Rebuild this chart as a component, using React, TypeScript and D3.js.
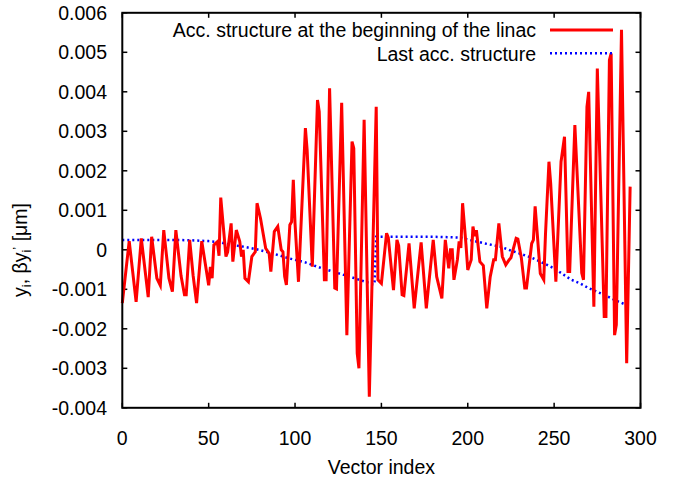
import React from 'react';
import * as d3 from 'd3';

// x-axis ticks (vector index) and y-axis ticks (in units of 0.001 µm)
const xTicks = [0, 50, 100, 150, 200, 250, 300];
const yTicks = [-4, -3, -2, -1, 0, 1, 2, 3, 4, 5, 6];

// Acc. structure at the beginning of the linac (values in units of 0.001)
const redIdx = [0, 4, 8, 11, 15, 17, 20, 22, 24, 27, 29, 31, 34, 36, 37, 39, 41, 43, 46, 48, 50, 51, 52, 53, 55, 56, 57, 60, 61, 63, 64, 66, 68, 69, 70, 71, 73, 75, 77, 78, 80, 83, 85, 86, 88, 90, 92, 93, 94, 95, 97, 98, 99, 100, 102, 106, 107, 110, 113, 114, 117, 118, 120, 123, 124, 127, 130, 133, 134, 136, 137, 140, 143, 147, 148, 150, 153, 154, 157, 159, 160, 162, 163, 166, 169, 173, 176, 180, 182, 185, 187, 189, 190, 191, 192, 194, 195, 196, 197, 199, 200, 202, 203, 204, 205, 207, 209, 211, 213, 215, 216, 218, 220, 222, 224, 225, 228, 229, 231, 233, 234, 237, 238, 239, 242, 244, 245, 247, 248, 251, 254, 256, 258, 259, 262, 266, 267, 269, 270, 273, 275, 279, 280, 282, 283, 285, 286, 289, 292, 294];
const redVal = [-1.35, 0.22, -1.32, 0.29, -1.2, 0.33, -0.72, -0.9, 0.5, -0.72, -1.06, 0.5, -0.66, -1.14, -1.14, 0.25, -0.65, -1.35, 0.22, -0.34, -0.9, -0.43, -0.72, 0.12, 0.2, -0.15, 1.32, -0.17, -0.05, 0.67, -0.3, 0.5, 0.21, -0.17, 0.0, -0.72, -0.81, -0.17, -0.05, 1.18, 0.8, 0.04, -0.09, -0.55, 0.46, 0.59, 0.0, -0.05, -0.68, -0.89, 0.63, 0.71, 1.77, 0.67, -0.81, 3.08, 2.53, -0.43, 3.79, 3.5, -0.76, -0.76, 4.09, -0.97, -0.99, 3.72, -2.16, 2.74, 2.57, -2.62, -3.0, 3.29, -3.72, 3.62, -0.76, -0.85, 0.42, 0.3, -1.02, 0.25, 0.1, -1.14, -1.16, 0.16, -1.48, 0.19, -1.48, 0.25, -0.68, -1.23, 0.25, -0.47, 0.0, 0.0, -0.76, -0.25, 0.21, 0.05, 1.18, 0.11, -0.51, -0.25, 0.59, 0.35, 0.5, -0.3, -0.4, -1.48, -0.68, -0.25, -0.25, 0.67, -0.17, -0.38, -0.25, -0.2, 0.29, 0.27, -0.2, -0.97, -0.97, 0.16, 0.25, 1.1, -0.6, -0.76, 0.4, 2.23, 1.68, -0.81, 2.23, 2.86, -0.55, -0.55, 3.16, -0.59, -0.76, 3.62, 4.0, -1.44, 4.59, -1.69, -1.69, 4.8, 4.97, -2.16, -1.9, 5.57, -2.87, 1.6];

// Last acc. structure (values in units of 0.001)
const blueIdx = [0, 10, 20, 30, 40, 50, 57, 60, 70, 77, 87, 96, 106, 115, 122, 133, 145, 146, 147, 160, 180, 196, 200, 205, 211, 219, 225, 231, 237, 242, 250, 260, 265, 270, 279, 285, 292];
const blueVal = [0.25, 0.25, 0.25, 0.25, 0.24, 0.22, 0.19, 0.15, 0.08, 0.02, -0.09, -0.21, -0.32, -0.46, -0.55, -0.7, -0.87, -0.87, 0.33, 0.33, 0.33, 0.31, 0.26, 0.21, 0.15, 0.08, -0.02, -0.11, -0.2, -0.3, -0.47, -0.76, -0.85, -0.97, -1.14, -1.27, -1.4];

const legendLabels = ['Acc. structure at the beginning of the linac', 'Last acc. structure'];
const xTitle = 'Vector index';

const W = 684;
const H = 485;
const L = 122.3, R = 640.5, T = 12.8, B = 407.8;
const FONT = '"Liberation Sans", Arial, Helvetica, sans-serif';
const FS = 19.5;

export default function App() {
  const x = d3.scaleLinear().domain([0, 300]).range([L, R]);
  const y = d3.scaleLinear().domain([-4, 6]).range([B, T]);
  const line = d3.line<[number, number]>().x(d => x(d[0])).y(d => y(d[1]));
  const redPts: [number, number][] = redIdx.map((v, i) => [v, redVal[i]]);
  const bluePts: [number, number][] = blueIdx.map((v, i) => [v, blueVal[i]]);
  const fmt = (v: number) => (v === 0 ? '0' : (v / 1000).toFixed(3));
  const tick = 5;

  return (
    <svg width={W} height={H} style={{ position: 'absolute', left: 0, top: 0, background: '#fff' }} fontFamily={FONT}>
      <rect x={0} y={0} width={W} height={H} fill="#fff" />
      {/* ticks */}
      {xTicks.map(t => (
        <g key={'x' + t}>
          <line x1={x(t)} x2={x(t)} y1={B} y2={B - tick} stroke="#000" strokeWidth={1.5} />
          <line x1={x(t)} x2={x(t)} y1={T} y2={T + tick} stroke="#000" strokeWidth={1.5} />
          <text x={x(t)} y={445} textAnchor="middle" fontSize={FS} fill="#000">{t}</text>
        </g>
      ))}
      {yTicks.map(t => (
        <g key={'y' + t}>
          <line x1={L} x2={L + tick} y1={y(t)} y2={y(t)} stroke="#000" strokeWidth={1.5} />
          <line x1={R} x2={R - tick} y1={y(t)} y2={y(t)} stroke="#000" strokeWidth={1.5} />
          <text x={107} y={y(t) + 7} textAnchor="end" fontSize={FS} fill="#000">{fmt(t)}</text>
        </g>
      ))}
      {/* data */}
      <path d={line(bluePts) || ''} fill="none" stroke="#0000ff" strokeWidth={2.5} strokeDasharray="2,3" />
      <path d={line(redPts) || ''} fill="none" stroke="#ff0000" strokeWidth={3} strokeLinejoin="miter" />
      {/* frame */}
      <rect x={L} y={T} width={R - L} height={B - T} fill="none" stroke="#000" strokeWidth={2} />
      {/* legend */}
      <text x={536} y={37} textAnchor="end" fontSize={FS} fill="#000">{legendLabels[0]}</text>
      <line x1={550} x2={613} y1={30} y2={30} stroke="#ff0000" strokeWidth={3} />
      <text x={536} y={61} textAnchor="end" fontSize={FS} fill="#000">{legendLabels[1]}</text>
      <line x1={550} x2={613} y1={53.3} y2={53.3} stroke="#0000ff" strokeWidth={2.5} strokeDasharray="2,3" />
      {/* axis titles */}
      <text x={(L + R) / 2} y={474} textAnchor="middle" fontSize={FS} fill="#000">{xTitle}</text>
      <text transform={`translate(27,250) rotate(-90)`} textAnchor="middle" fontSize={FS} fill="#000">
        y<tspan fontSize={13} dy={4}>i</tspan>
        <tspan dy={-4}>, βy</tspan>
        <tspan fontSize={13} dy={4}>i</tspan>
        <tspan fontSize={13} dy={-9}>’</tspan>
        <tspan dy={5}> [μm]</tspan>
      </text>
    </svg>
  );
}
